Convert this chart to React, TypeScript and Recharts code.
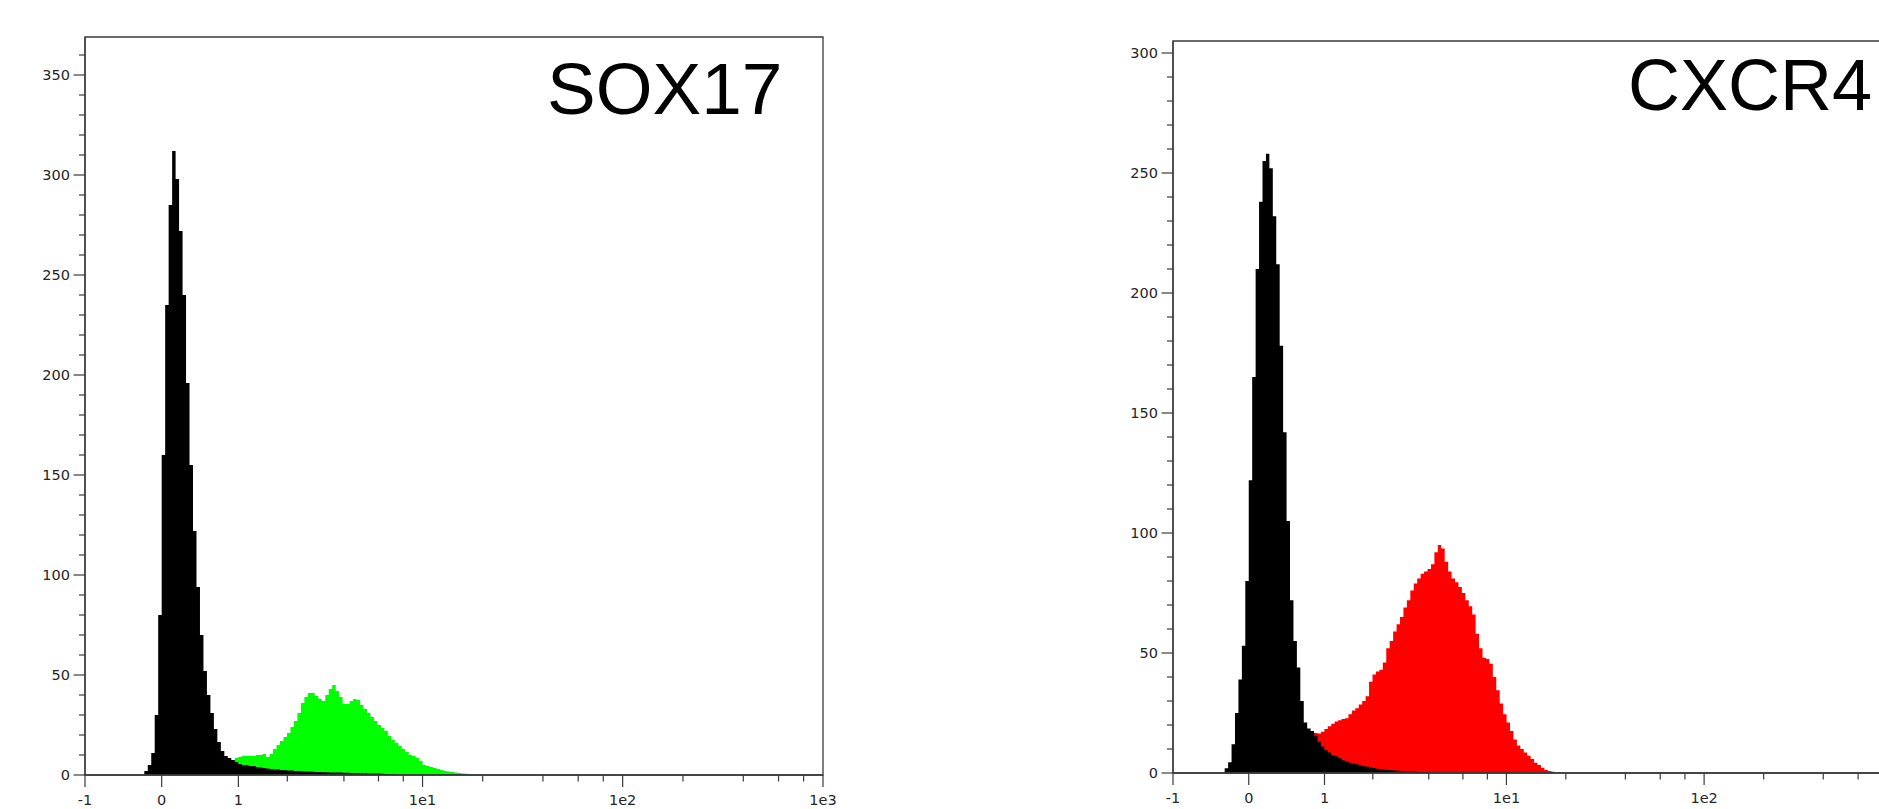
import { AreaChart, Area, XAxis, YAxis, ReferenceArea } from "recharts";

// histogram bins are even steps on the asinh display scale
const BIN_WIDTH = 0.04;

// SOX17 panel: isotype control (black) and SOX17 stain (green)
const SOX17_START = -0.24;
const SOX17_CONTROL = [
  0, 2, 5, 11, 30, 80, 160, 235, 285, 312,
  298, 272, 240, 196, 155, 122, 94, 70, 52, 40,
  31, 23, 16.5, 12, 9.5, 8.5, 7.5, 6.5, 5.5, 5,
  5, 4.5, 4.5, 4, 3.8, 3.5, 3.2, 3, 2.8, 2.7,
  2.5, 2.4, 2.3, 2.2, 2, 2, 1.9, 1.8, 1.7, 1.6,
  1.5, 1.5, 1.4, 1.4, 1.3, 1.3, 1.2, 1.2, 1.1, 1.1,
  1, 1, 1, 0.9, 0.9, 0.8, 0.8, 0.7, 0.7, 0.6,
  0.5, 0.4, 0.3, 0,
];
const SOX17_STAINED = [
  0, 0, 0, 0, 0, 0, 0, 0, 0, 0,
  0, 0, 0, 0, 0, 0, 0, 1, 1.5, 2,
  2.5, 3, 4, 5, 5.5, 6.5, 7.5, 8.5, 9, 9.5,
  9.5, 9.5, 9.5, 10, 10, 10.5, 9, 10.5, 13, 15,
  17, 19, 21, 24, 27, 31, 36, 39, 41, 41,
  39.5, 38, 37, 40, 43, 45, 42, 39, 35.5, 35.5,
  37, 38, 37.5, 35, 33, 31, 29, 27, 25, 23.5,
  22, 19.5, 17.5, 16, 14.5, 13, 11.5, 10, 9.5, 8.5,
  7, 5, 4.5, 4, 3.5, 3, 2.5, 2, 1.8, 1.5,
  1.2, 1, 0.8, 0.6, 0.4, 0,
];

// CXCR4 panel: isotype control (black) and CXCR4 stain (red)
const CXCR4_START = -0.32;
const CXCR4_CONTROL = [
  0.3, 2, 4.5, 12, 25, 39, 53, 80, 122, 165,
  210, 238, 255, 258, 252, 232, 212, 178, 142, 105,
  72, 55, 44, 30, 21, 18.5, 17.5, 15.5, 13, 11,
  9.5, 8.5, 7.5, 7, 6.2, 5.3, 4.8, 4.3, 4, 3.6,
  3.2, 2.9, 2.6, 2.3, 2.1, 1.8, 1.6, 1.4, 1.3, 1.1,
  1, 0.9, 0.8, 0.7, 0.6, 0.5, 0.5, 0.4, 0.3, 0.2,
  0,
];
const CXCR4_STAINED = [
  0, 0, 0, 0, 0, 0, 0, 0, 0, 0,
  0, 0, 0, 0, 0, 0, 0, 0, 0, 0,
  3, 5, 8, 11, 14, 16, 16.5, 16.7, 16.5, 17.2,
  18.3, 19.5, 20.5, 21.5, 22, 22.5, 22.8, 24.5, 26, 27,
  28.5, 30, 32, 38, 41, 42.3, 43, 46, 52, 55,
  59, 62, 65, 69, 72, 76, 79, 81, 83, 84,
  85, 87, 92, 95, 93.5, 88, 84, 81, 79.5, 77.5,
  75, 72, 69.5, 66, 58, 52, 48, 47.5, 45.5, 40,
  34.5, 29, 24.5, 21, 17.5, 14, 11.5, 10, 8.5, 7.2,
  5.8, 4.3, 3.3, 2.2, 1.3, 0.8, 0.5, 0,
];

const X_MAJOR = [-1, 0, 1, 10, 100, 1000];
const X_MAJOR_LABELS = ["-1", "0", "1", "1e1", "1e2", "1e3"];
const X_MINOR = [2, 4, 6, 8, 20, 40, 60, 80, 200, 400, 600, 800];

const SOX17_Y_MAJOR = [0, 50, 100, 150, 200, 250, 300, 350];
const SOX17_Y_MAX = 369;
const CXCR4_Y_MAJOR = [0, 50, 100, 150, 200, 250, 300];
const CXCR4_Y_MAX = 305;
const Y_MINOR_STEP = 10;

const PAGE_W = 1879;
const PAGE_H = 809;
const AXIS = "#3a3a3a";
const LABEL = "#262626";
const TICK_FONT = "'DejaVu Sans', Verdana, sans-serif";
const TICK_SIZE = 14.5;

const X_MIN = Math.asinh(-1);
const X_MAX = Math.asinh(1000);
const X_MAJOR_POS = X_MAJOR.map(Math.asinh);
const X_TICKS = [...X_MAJOR, ...X_MINOR].map(Math.asinh).sort((a, b) => a - b);

function buildRows(start: number, control: number[], stained: number[]) {
  const n = Math.max(control.length, stained.length);
  return Array.from({ length: n }, (_, i) => ({
    x: start + BIN_WIDTH * (i + 0.5),
    control: control[i] ?? 0,
    stained: stained[i] ?? 0,
  }));
}

function minorTicks(max: number) {
  const out: number[] = [];
  for (let v = 0; v <= max; v += Y_MINOR_STEP) out.push(v);
  return out;
}

// labels falling past the page edge are cut off in the original, so skip them
const makeXTick = (axisY: number, visibleRight: number) => (props: any) => {
  const { x, payload } = props;
  const idx = X_MAJOR_POS.findIndex((p) => Math.abs(p - payload.value) < 1e-6);
  const major = idx >= 0;
  return (
    <g>
      <line x1={x} x2={x} y1={axisY} y2={axisY + (major ? 12 : 6.5)} stroke={AXIS} strokeWidth={1.2} />
      {major && x + 14 < visibleRight && (
        <text x={x} y={axisY + 30} textAnchor="middle" fontFamily={TICK_FONT} fontSize={TICK_SIZE} fill={LABEL}>
          {X_MAJOR_LABELS[idx]}
        </text>
      )}
    </g>
  );
};

const makeYTick = (axisX: number, majors: number[]) => (props: any) => {
  const { y, payload } = props;
  const major = majors.includes(payload.value);
  return (
    <g>
      <line x1={axisX - (major ? 11.5 : 6)} x2={axisX} y1={y} y2={y} stroke={AXIS} strokeWidth={1.2} />
      {major && (
        <text x={axisX - 15} y={y + 5.3} textAnchor="end" fontFamily={TICK_FONT} fontSize={TICK_SIZE} fill={LABEL}>
          {payload.value}
        </text>
      )}
    </g>
  );
};

interface PanelProps {
  left: number;
  width: number;
  plotLeft: number;
  plotRight: number;
  plotTop: number;
  plotBottom: number;
  yMax: number;
  yMajor: number[];
  rows: { x: number; control: number; stained: number }[];
  color: string;
}

function HistogramPanel({ left, width, plotLeft, plotRight, plotTop, plotBottom, yMax, yMajor, rows, color }: PanelProps) {
  return (
    <div style={{ position: "absolute", left, top: 0 }}>
      <AreaChart
        width={width}
        height={PAGE_H}
        data={rows}
        margin={{ top: plotTop, right: left + width - plotRight, bottom: 0, left: 0 }}
      >
        <XAxis
          dataKey="x"
          type="number"
          domain={[X_MIN, X_MAX]}
          ticks={X_TICKS}
          interval={0}
          allowDataOverflow
          height={PAGE_H - plotBottom}
          tickSize={0}
          tickMargin={0}
          tickLine={false}
          axisLine={{ stroke: AXIS, strokeWidth: 1.3 }}
          tick={makeXTick(plotBottom, PAGE_W - left)}
        />
        <YAxis
          type="number"
          domain={[0, yMax]}
          ticks={minorTicks(yMax)}
          interval={0}
          allowDataOverflow
          width={plotLeft - left}
          tickSize={0}
          tickMargin={0}
          tickLine={false}
          axisLine={{ stroke: AXIS, strokeWidth: 1.3 }}
          tick={makeYTick(plotLeft - left, yMajor)}
        />
        <Area
          dataKey="stained"
          type="step"
          stroke="none"
          fill={color}
          fillOpacity={1}
          dot={false}
          activeDot={false}
          isAnimationActive={false}
        />
        <Area
          dataKey="control"
          type="step"
          stroke="none"
          fill="#000000"
          fillOpacity={1}
          dot={false}
          activeDot={false}
          isAnimationActive={false}
        />
        <ReferenceArea x1={X_MIN} x2={X_MAX} y1={0} y2={yMax} fill="none" stroke={AXIS} strokeWidth={1.3} />
      </AreaChart>
    </div>
  );
}

const titleStyle = {
  position: "absolute" as const,
  fontFamily: "'Liberation Sans', Arial, sans-serif",
  fontSize: 73,
  lineHeight: "73px",
  color: "#000",
  whiteSpace: "nowrap" as const,
};

export default function App() {
  return (
    <div
      style={{
        position: "absolute",
        left: 0,
        top: 0,
        width: PAGE_W,
        height: PAGE_H,
        overflow: "hidden",
        background: "#fff",
      }}
    >
      <HistogramPanel
        left={0}
        width={900}
        plotLeft={85}
        plotRight={823}
        plotTop={37}
        plotBottom={775}
        yMax={SOX17_Y_MAX}
        yMajor={SOX17_Y_MAJOR}
        rows={buildRows(SOX17_START, SOX17_CONTROL, SOX17_STAINED)}
        color="#00ff00"
      />
      <HistogramPanel
        left={1000}
        width={1000}
        plotLeft={1173}
        plotRight={1902}
        plotTop={41}
        plotBottom={773}
        yMax={CXCR4_Y_MAX}
        yMajor={CXCR4_Y_MAJOR}
        rows={buildRows(CXCR4_START, CXCR4_CONTROL, CXCR4_STAINED)}
        color="#ff0000"
      />
      <div style={{ ...titleStyle, left: 547, top: 51.5 }}>SOX17</div>
      <div style={{ ...titleStyle, left: 1628, top: 49, fontSize: 72, lineHeight: "72px" }}>CXCR4</div>
    </div>
  );
}
